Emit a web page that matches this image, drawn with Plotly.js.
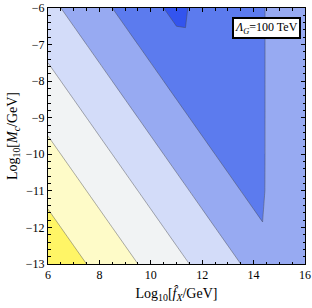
<!DOCTYPE html>
<html>
<head>
<meta charset="utf-8">
<script src="https://cdn.plot.ly/plotly-3.0.1.min.js"></script>
<style>html,body{margin:0;padding:0;background:#fff;}#chart{width:312px;height:308px;}</style>
</head>
<body>
<div id="chart"></div>
<script>
// log10 f_X grid (GeV)
var logF = [6, 7, 8, 9, 10, 11, 11.35, 11.45, 12, 13, 14, 14.35, 14.45, 15, 16];
// log10 M_c grid (GeV)
var logM = [-13, -12, -11, -10, -9, -8, -7, -6.6, -6];
// field values, one row per logM value
var zRowM13  = [-7, -6, -5, -4, -3, -2, -1.65, -1.55, -1, 0, 1, 1.35, 1.45, 2, 2.4];
var zRowM12  = [-6, -5, -4, -3, -2, -1, -0.65, -0.55, 0, 1, 2, 2.35, 2.4, 2.4, 2.4];
var zRowM11  = [-5, -4, -3, -2, -1, 0, 0.35, 0.45, 1, 2, 3, 3.35, 2.4, 2.4, 2.4];
var zRowM10  = [-4, -3, -2, -1, 0, 1, 1.35, 1.45, 2, 3, 4, 4.35, 2.4, 2.4, 2.4];
var zRowM9   = [-3, -2, -1, 0, 1, 2, 2.35, 2.45, 3, 4, 4.4, 4.4, 2.4, 2.4, 2.4];
var zRowM8   = [-2, -1, 0, 1, 2, 3, 3.35, 3.45, 4, 4.4, 4.4, 4.4, 2.4, 2.4, 2.4];
var zRowM7   = [-1, 0, 1, 2, 3, 4, 4.35, 4.4, 4.4, 4.4, 4.4, 4.4, 2.4, 2.4, 2.4];
var zRowM66  = [-0.6, 0.4, 1.4, 2.4, 3.4, 4.4, 4.4, 4.4, 4.4, 4.4, 4.4, 4.4, 2.4, 2.4, 2.4];
var zRowM6   = [0, 1, 2, 3, 4, 5, 5.35, 4.4, 4.4, 4.4, 4.4, 4.4, 2.4, 2.4, 2.4];
// contour levels
var levelStart = -5.5, levelEnd = 4.5, levelStep = 2;
var bandColors = ['#FFF566', '#FEFBC8', '#F1F3F4', '#D3DCF9', '#97AAF2', '#5C7BEE', '#3354EE'];
var xTickVals = [6, 8, 10, 12, 14, 16];
var yTickVals = [-13, -12, -11, -10, -9, -8, -7, -6];
var labelText = '<i>Λ</i><sub><i>G</i></sub>=100 TeV';

var zGrid = [zRowM13, zRowM12, zRowM11, zRowM10, zRowM9, zRowM8, zRowM7, zRowM66, zRowM6];
var n = bandColors.length;
var cs = [];
bandColors.forEach(function (c, i) {
  cs.push([i / n, c]);
  cs.push([(i + 1) / n, c]);
});

var serif = 'Liberation Serif, Times New Roman, serif';
var trace = {
  type: 'contour',
  x: logF, y: logM, z: zGrid,
  colorscale: cs,
  showscale: false,
  autocontour: false,
  contours: {start: levelStart, end: levelEnd, size: levelStep, coloring: 'fill'},
  line: {color: 'rgba(70,70,70,0.55)', width: 0.8, smoothing: 0},
  hoverinfo: 'skip'
};

var axisCommon = {
  showline: true, linecolor: '#000', linewidth: 1, mirror: 'allticks',
  ticks: 'inside', ticklen: 4, tickwidth: 1, tickcolor: '#000',
  showgrid: false, zeroline: false,
  tickfont: {family: serif, size: 12, color: '#000'}
};

var layout = {
  width: 312, height: 308,
  margin: {l: 48, r: 7, t: 8, b: 44},
  paper_bgcolor: '#fff', plot_bgcolor: '#fff',
  showlegend: false,
  xaxis: Object.assign({}, axisCommon, {
    range: [6, 16], tickvals: xTickVals,
    minor: {dtick: 0.5, ticks: 'inside', ticklen: 2.5, tickcolor: '#000', showgrid: false},
    title: {text: 'Log<sub>10</sub>[<i>f̂</i><sub><i>X</i></sub>/GeV]', font: {family: serif, size: 14, color: '#000'}, standoff: 6}
  }),
  yaxis: Object.assign({}, axisCommon, {
    range: [-13, -6], tickvals: yTickVals,
    minor: {dtick: 0.2, ticks: 'inside', ticklen: 2.5, tickcolor: '#000', showgrid: false},
    title: {text: 'Log<sub>10</sub>[<i>M</i><sub><i>c</i></sub>/GeV]', font: {family: serif, size: 14, color: '#000'}, standoff: 4}
  }),
  annotations: [{
    xref: 'paper', yref: 'paper', x: 0.985, y: 0.965, xanchor: 'right', yanchor: 'top',
    text: labelText, showarrow: false,
    font: {family: serif, size: 12, color: '#000'},
    bgcolor: '#fff', bordercolor: '#000', borderwidth: 2, borderpad: 1
  }]
};

Plotly.newPlot('chart', [trace], layout, {displayModeBar: false, staticPlot: true});
</script>
</body>
</html>
